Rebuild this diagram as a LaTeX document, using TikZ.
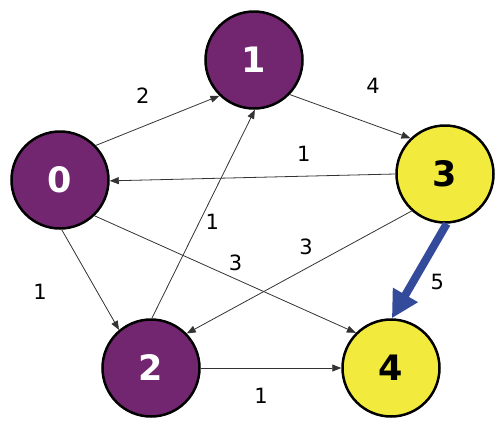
\documentclass[tikz,border=0pt]{standalone}
\usepackage{fontspec}
\setsansfont{DejaVu Sans}
\usetikzlibrary{arrows.meta,positioning}
\definecolor{gpurple}{HTML}{722670}
\definecolor{gyellow}{HTML}{F2EA3C}
\definecolor{gblue}{HTML}{344A9B}
\definecolor{gedge}{HTML}{333333}

\begin{document}
\begin{tikzpicture}[x=1pt, y=-1pt,
  vert/.style={circle, draw=black, line width=2.5pt, fill=gpurple,
    minimum size=97pt, inner sep=0pt, text=white,
    font=\sffamily\bfseries\fontsize{35}{35}\selectfont},
  goal/.style={vert, fill=gyellow, text=black},
  arr/.style={-{Triangle[length=9pt,width=7pt]}, line width=0.8pt, gedge},
  hot/.style={-{Triangle[length=27pt,width=27pt]}, line width=8pt, gblue},
  lab/.style={font=\sffamily\fontsize{21}{21}\selectfont, text=black, inner sep=0pt}]
\useasboundingbox (0,0) rectangle (504,426);
\node[vert] (n0) at (60,180) {0};
\node[vert] (n1) at (254,60) {1};
\node[goal] (n3) at (445,174) {3};
\node[vert] (n2) at (151,368) {2};
\node[goal] (n4) at (391,368) {4};
\draw[arr] (n0.44) -- node[lab, pos=0.38, above=23pt]{2} (n1.226);
\draw[arr] (n1.316) -- node[lab, pos=0.69, above=31pt]{4} (n3.134);
\draw[arr] (n3.180) -- node[lab, pos=0.32, above=14pt]{1} (n0.359);
\draw[arr] (n0.272) -- node[lab, pos=0.62, left=50pt]{1} (n2.130);
\draw[arr] (n0.314) -- node[lab, pos=0.54, above=8pt]{3} (n4.135);
\draw[arr] (n2.89) -- node[lab, pos=0.46, right=6pt]{1} (n1.271);
\draw[arr] (n3.228) -- node[lab, pos=0.47, above=13pt]{3} (n2.44);
\draw[arr] (n2.0) -- node[lab, pos=0.43, below=20pt]{1} (n4.180);
\draw[hot] (n3.272) -- node[lab, pos=0.62, right=14pt]{5} (n4.89);
\end{tikzpicture}
\end{document}
